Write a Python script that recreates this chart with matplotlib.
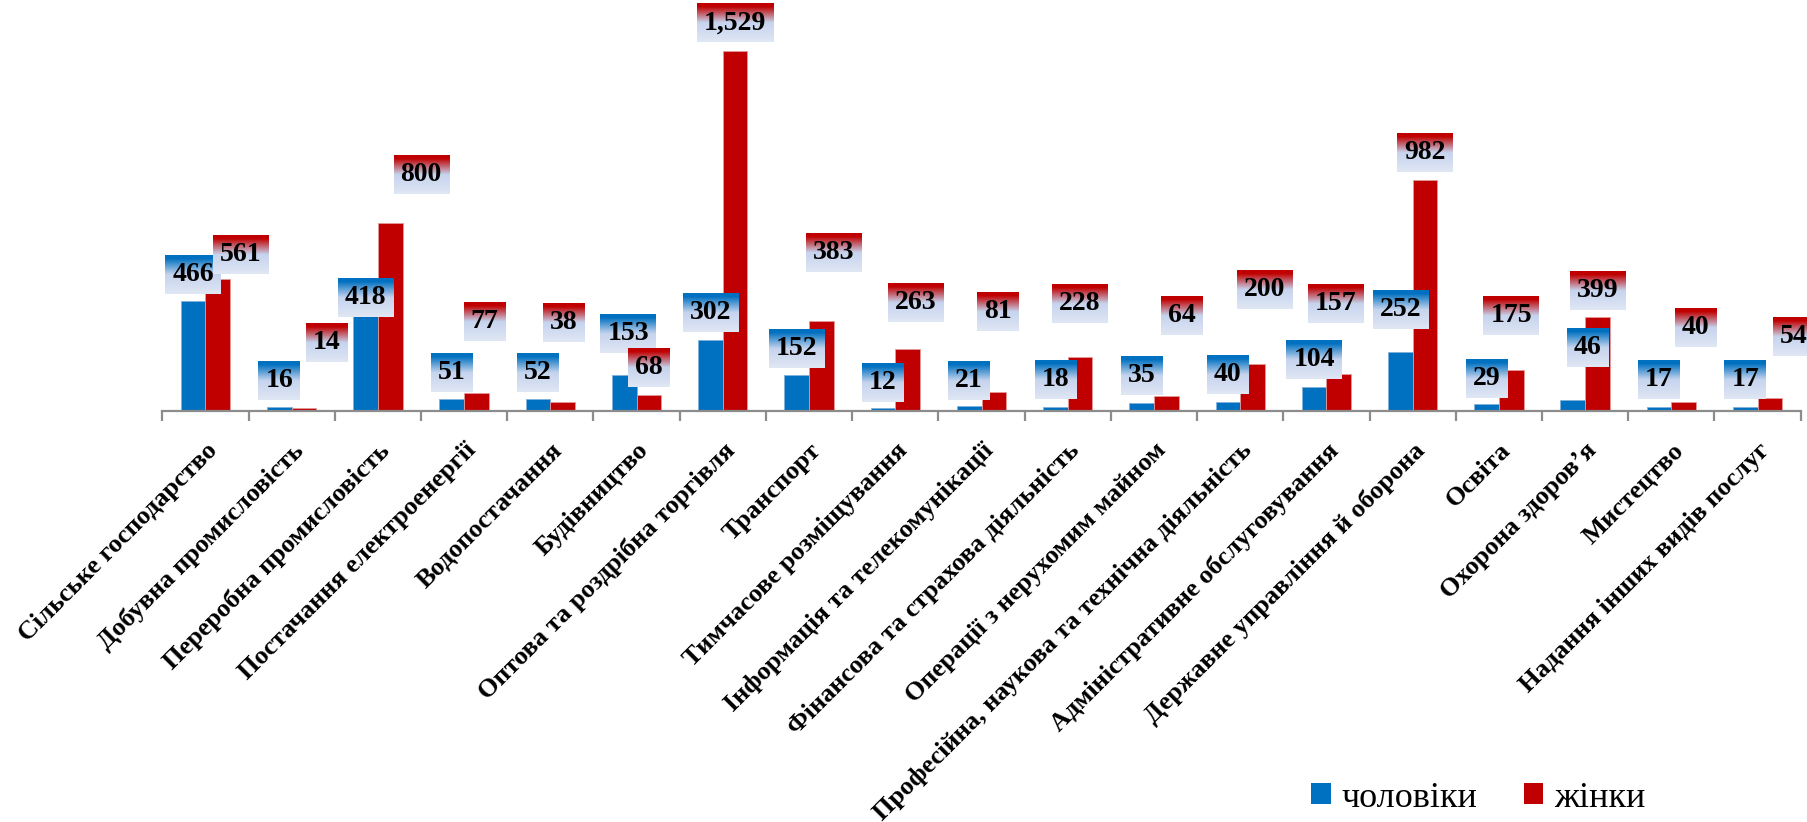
import numpy as np
import matplotlib
matplotlib.use("Agg")
import matplotlib.pyplot as plt
from matplotlib.colors import to_rgb
from matplotlib.image import BboxImage
from matplotlib.patches import Patch
from matplotlib.transforms import Bbox
from matplotlib.ticker import FixedLocator

plt.rcParams['font.family'] = ['Liberation Serif', 'DejaVu Serif']

# Data
categories = [
    "Сільське господарство", "Добувна промисловість", "Переробна промисловість",
    "Постачання електроенергії", "Водопостачання", "Будівництво",
    "Оптова та роздрібна торгівля", "Транспорт", "Тимчасове розміщування",
    "Інформація та телекомунікації", "Фінансова та страхова діяльність",
    "Операції з нерухомим майном", "Професійна, наукова та технічна діяльність",
    "Адміністративне обслуговування", "Державне управління й оборона",
    "Освіта", "Охорона здоров’я", "Мистецтво", "Надання інших видів послуг",
]
men = [466, 16, 418, 51, 52, 153, 302, 152, 12, 21, 18, 35, 40, 104, 252, 29, 46, 17, 17]
women = [561, 14, 800, 77, 38, 68, 1529, 383, 263, 81, 228, 64, 200, 157, 982, 175, 399, 40, 54]
series_names = ["чоловіки", "жінки"]

# label placement tweaks (pixels from bar top to label centre)
men_dx = [0, 0, 0, 0, 0, 4, 0, 0, 0, 0, 0, 0, 0, 0, 0, 0, 15, 0, 0]
men_dy = [27, 27, 15, 26, 26, 41, 27, 27, 26, 26, 27, 27, 27, 27, 42, 26, 53, 27, 27]
women_dx = [23, 23, 31, 8, 1, 0, 0, 12, 8, 4, 0, 16, 12, -3, 0, 0, 0, 12, 24]
women_dy = [24, 65, 48, 71, 80, 27, 28, 68, 47, 80, 54, 80, 74, 71, 27, 54, 27, 74, 62]

BLUE = '#0070C0'
RED = '#C00000'

W, H, DPI = 1807, 822, 100
fig = plt.figure(figsize=(W / DPI, H / DPI), dpi=DPI)
ax = fig.add_axes([162.3 / W, 0.5, (1800.7 - 162.3) / W, 0.5])

x = np.arange(len(categories))
bw = 0.286
ax.bar(x - bw / 2, men, bw, color=BLUE, edgecolor='#7fb0da', linewidth=0.6, zorder=2)
ax.bar(x + bw / 2, women, bw, color=RED, edgecolor='#e49a9a', linewidth=0.6, zorder=2)

ax.set_xlim(-0.5, len(categories) - 0.5)
ax.set_ylim(0, 1745)


def gradient(color):
    stops = [0.0, 0.08, 0.5, 1.0]
    cols = np.array([to_rgb(color), to_rgb(color), to_rgb('#c6d4ee'), to_rgb('#e0e7f4')])
    t = np.linspace(0, 1, 64)
    arr = np.stack([np.interp(t, stops, cols[:, k]) for k in range(3)], axis=-1)
    return arr[:, None, :]


def label_box(text):
    def box(renderer):
        ext = text.get_window_extent(renderer)
        cx = (ext.x0 + ext.x1) / 2
        cy = (ext.y0 + ext.y1) / 2
        w = ext.width + 14
        return Bbox.from_bounds(cx - w / 2, cy - 19.5, w, 39)
    return box


def add_label(xpos, val, dx, dy, color):
    t = ax.annotate(f"{val:,}", xy=(xpos, val), xytext=(dx, dy),
                    textcoords='offset pixels', ha='center', va='center',
                    fontsize=20, fontweight='bold', color='black', zorder=6)
    img = BboxImage(label_box(t), data=gradient(color), interpolation='bilinear', zorder=5)
    ax.add_artist(img)
    img.set_clip_on(False)


for i in range(len(categories)):
    add_label(x[i] - bw / 2, men[i], men_dx[i], men_dy[i], BLUE)
    add_label(x[i] + bw / 2, women[i], women_dx[i], women_dy[i], RED)

# axes styling
for s in ['top', 'right', 'left']:
    ax.spines[s].set_visible(False)
ax.spines['bottom'].set_color('#8c8c8c')
ax.spines['bottom'].set_linewidth(1.6)
ax.set_yticks([])
ax.set_xticks(x)
ax.set_xticklabels(categories, rotation=45, ha='right', va='top',
                   rotation_mode='anchor', fontsize=19, fontweight='bold')
ax.tick_params(axis='x', which='major', length=0, pad=20)
ax.xaxis.set_minor_locator(FixedLocator(np.arange(-0.5, len(categories), 1.0)))
ax.tick_params(axis='x', which='minor', length=7, width=1.6, color='#8c8c8c')

handles = [Patch(facecolor=BLUE), Patch(facecolor=RED)]
fig.legend(handles, series_names, loc='center', bbox_to_anchor=(1478.5 / W, 1 - 798 / H),
           ncol=2, frameon=False, fontsize=26, handlelength=0.53, handleheight=0.53,
           handletextpad=0.3, columnspacing=1.3)

fig.savefig('out.png', dpi=DPI)
